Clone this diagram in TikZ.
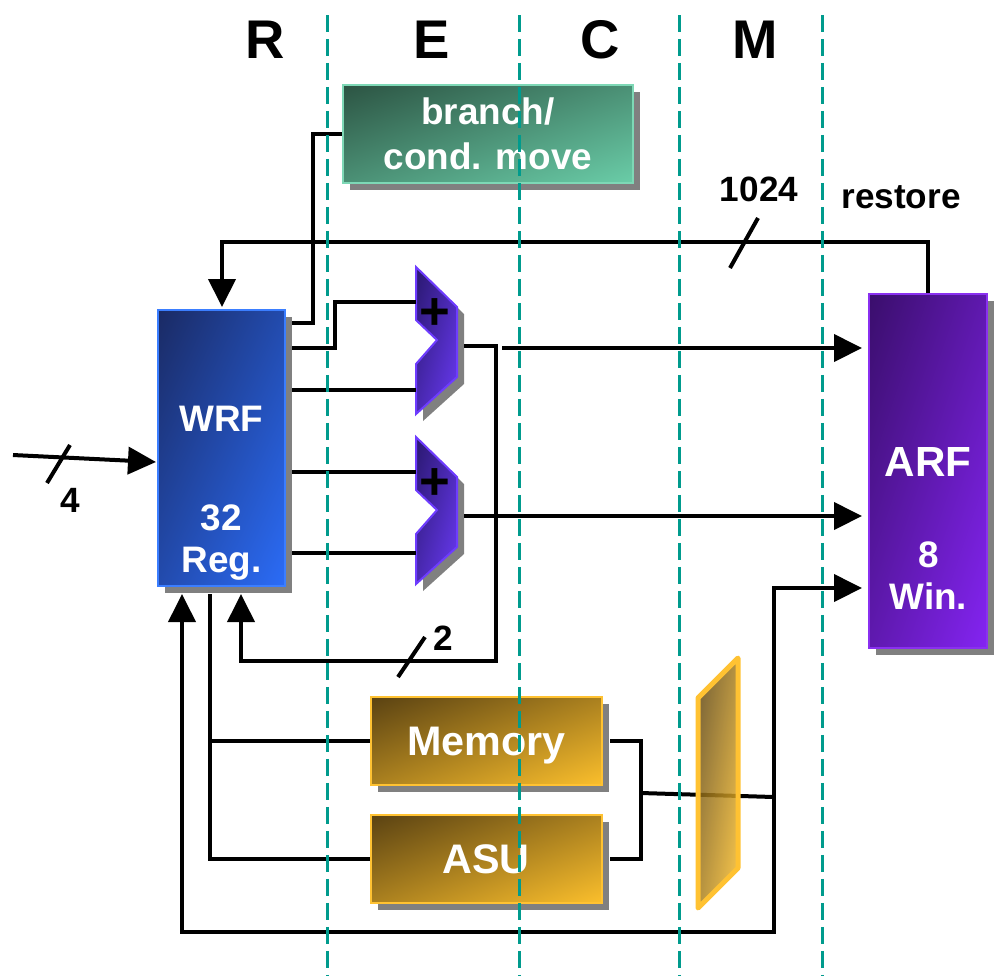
\documentclass[tikz,border=0pt]{standalone}
\usepackage{fontspec}
\setmainfont{Liberation Sans}
\usepackage{xcolor}
\usetikzlibrary{positioning,arrows.meta,shadings,shadows,calc}

\definecolor{pipeteal}{HTML}{009B8D}
\definecolor{brdark}{HTML}{2C5443}
\definecolor{brlight}{HTML}{6ACDA8}
\definecolor{bredge}{HTML}{7ED8B6}
\definecolor{wrfdark}{HTML}{1A2A64}
\definecolor{wrflight}{HTML}{2B6CF7}
\definecolor{wrfedge}{HTML}{3B7EFF}
\definecolor{arfdark}{HTML}{3A0E6C}
\definecolor{arflight}{HTML}{8424F2}
\definecolor{arfedge}{HTML}{8A30F0}
\definecolor{adddark}{HTML}{2A1870}
\definecolor{addlight}{HTML}{6A3AF5}
\definecolor{addedge}{HTML}{6E3CFF}
\definecolor{golddark}{HTML}{5A4212}
\definecolor{goldlight}{HTML}{FBBF2C}
\definecolor{goldedge}{HTML}{FFC232}

\tikzset{
  wire/.style={line width=0.08cm},
  arr/.style={-{Triangle[length=0.56cm,width=0.54cm]}},
  shadowed/.style={drop shadow={shadow xshift=0.14cm,shadow yshift=-0.14cm,fill=black!50,opacity=1}},
  unit/.style={shadowed,draw,line width=0.04cm,inner sep=0pt,text=white,align=center},
  shade/.style 2 args={upper left=#1,lower right=#2,upper right=#1!50!#2,lower left=#1!50!#2},
  boxtext/.style={text=white,align=center},
  stage/.style={font=\bfseries\fontsize{31}{31}\selectfont},
  tag/.style={font=\bfseries\fontsize{20}{20}\selectfont},
  pipe/.style={draw=pipeteal,line width=0.06cm,dash pattern=on 0.34cm off 0.14cm}
}

\begin{document}
\begin{tikzpicture}[x=0.02cm,y=-0.02cm]
  \useasboundingbox (0,0) rectangle (996,975);

  % pipeline stages
  \foreach \s/\x in {R/265,E/432,C/600,M/755}
    \node[stage] (st\s) at (\x,40) {\s};

  % units
  \node[unit,draw=bredge,shade={brdark}{brlight},minimum width=5.8cm,minimum height=1.96cm,
        font=\bfseries\fontsize{21}{25.5}\selectfont] (branch) at (488,134) {branch/\\cond. move};
  \node[unit,draw=wrfedge,shade={wrfdark}{wrflight},minimum width=2.54cm,minimum height=5.54cm,
        label={[name=wrftext,boxtext,yshift=-0.9cm,font=\bfseries\fontsize{21}{23.6}\selectfont]center:WRF\\[33pt]32\\Reg.}]
        (wrf) at (221.5,448) {};
  \node[unit,draw=arfedge,shade={arfdark}{arflight},minimum width=2.36cm,minimum height=7.08cm,
        label={[name=arftext,boxtext,yshift=-1.14cm,font=\bfseries\fontsize{21}{23.8}\selectfont]center:{\fontsize{24}{24}\selectfont ARF}\\[28pt]8\\Win.}]
        (arf) at (928.3,471.2) {};
  \node[unit,draw=goldedge,shade={golddark}{goldlight},minimum width=4.62cm,minimum height=1.76cm,
        text depth=0pt,font=\bfseries\fontsize{23.5}{23.5}\selectfont] (mem) at (486.2,741.2) {Memory};
  \node[unit,draw=goldedge,shade={golddark}{goldlight},minimum width=4.62cm,minimum height=1.76cm,
        text depth=0pt,font=\bfseries\fontsize{23.5}{23.5}\selectfont] (asu) at (486.2,858.8) {ASU};

  % adders
  \foreach \i/\ya/\yb in {1/267/390,2/437/553} {
    \begin{scope}[shift={(0,\ya)}]
      \path[shadowed,draw=addedge,line width=0.04cm,shade={adddark}{addlight}]
        (416,0) -- (457,40) -- (457,110) -- (416,147) -- (416,97) -- (437,73) -- (416,53) -- cycle;
      \node[font=\bfseries\fontsize{30}{30}\selectfont] (plus\i) at (435,47) {+};
      \coordinate (add\i-in1) at (416,35);
      \coordinate (add\i-out) at (464,79);
    \end{scope}
    \coordinate (add\i-in2) at (416,\yb);
  }

  % ports
  \foreach \n/\y in {a/323,b/348,c/390,d/472,e/553}
    \coordinate (w\n) at (292,\y);
  \coordinate (wrf-top) at (222,307);
  \coordinate (wrf-in) at (156,462);
  \coordinate (in4) at (13,455);
  \coordinate (wrf-ret) at (182,594);
  \coordinate (wrf-rd) at (210,594);
  \coordinate (wrf-fb) at (241,594);
  \coordinate (fb) at (496,661);
  \coordinate (tap1) at (502,348);
  \coordinate (arf-in1) at (862,348);
  \coordinate (arf-in2) at (862,516);
  \coordinate (arf-in3) at (862,588);
  \coordinate (mj) at (641,793);
  \coordinate (rj) at (774,797);

  % register reads
  \draw[wire] (wa) -- ++(21,0) |- (branch.west);
  \draw[wire] (wb) -- ++(43,0) |- (add1-in1);
  \draw[wire] (wc) -- (add1-in2);
  \draw[wire] (wd) -- (add2-in1);
  \draw[wire] (we) -- (add2-in2);

  % adder results
  \draw[wire,arr] (add1-out) -| (fb) -| (wrf-fb);
  \draw[wire,arr] (tap1) -- (arf-in1);
  \draw[wire,arr] (add2-out) -- (arf-in2);
  \draw[wire] (398,677) -- (425,637);
  \node[tag] (w2) at (443,638) {2};

  % restore path
  \draw[wire,arr] (arf.north) -- ++(0,-51) -| (wrf-top);
  \draw[wire] (730,268) -- (758,218);
  \node[tag] (w1024) at (759,189) {1024};
  \node[tag] (restore) at (901,197) {restore};

  % input
  \draw[wire,arr] (in4) -- (wrf-in);
  \draw[wire] (47,483) -- (70,445);
  \node[tag] (w4) at (70,500) {4};

  % memory / asu
  \draw[wire] (wrf-rd) |- (asu.west);
  \draw[wire] (wrf-rd |- mem.west) -- (mem.west);
  \draw[wire] ([xshift=0.15cm]mem.east) -| (mj) |- ([xshift=0.15cm]asu.east);
  \draw[wire] (mj) -- (rj);
  \path[draw=goldedge,line width=0.1cm,line join=round,fill opacity=0.85,shade={golddark}{goldlight}]
    (698,698) -- (738,658) -- (738,868) -- (698,908) -- cycle;
  \draw[wire,arr] (rj) |- (arf-in3);
  \draw[wire,arr] (rj) -- ++(0,135) -| (wrf-ret);

  % stage boundaries
  \foreach \x in {327,519,679,822}
    \draw[pipe] (\x,15) -- (\x,975);
\end{tikzpicture}
\end{document}
